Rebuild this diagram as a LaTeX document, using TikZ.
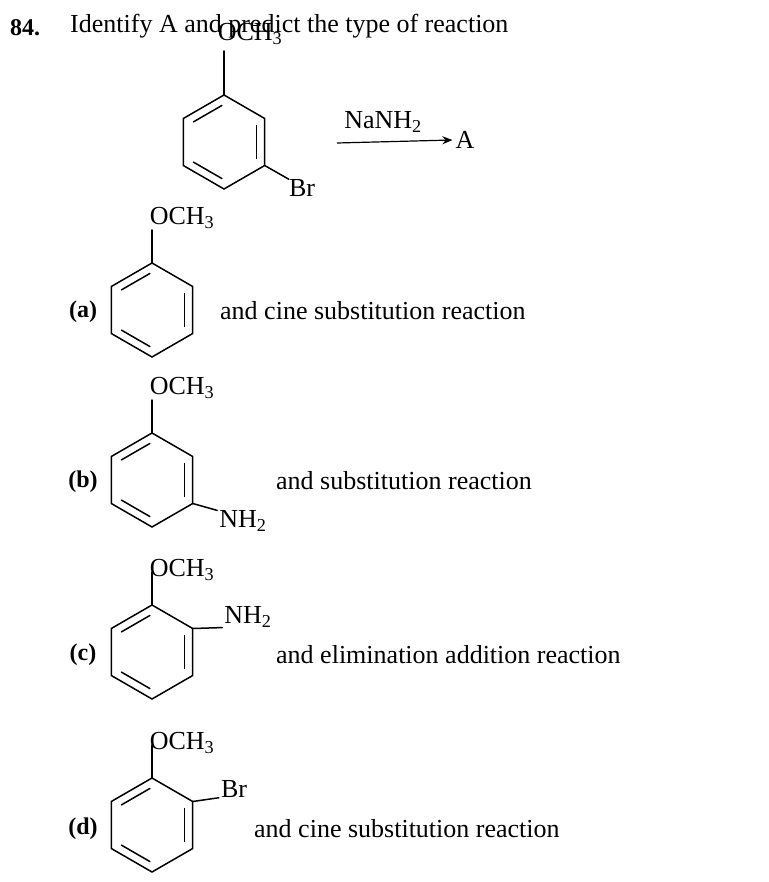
\documentclass[tikz,border=0pt]{standalone}
\usepackage{fontspec}
\setmainfont{Liberation Serif}
\usetikzlibrary{positioning,calc,arrows.meta}

% benzene ring: centre (#1,#2), radius 47, Kekule bonds inside
\newcommand{\benzring}[3]{%
  \begin{scope}[shift={(#1,#2)}]
    \draw[bond] (-90:47) -- (-150:47) -- (150:47) -- (90:47) -- (30:47) -- (-30:47) -- cycle;
    \draw[bond] ($(-90:47)!0.15!(-150:47)+(60:8)$) -- ($(-90:47)!0.85!(-150:47)+(60:8)$);
    \draw[bond] ($(-30:47)!0.15!(30:47)+(180:8)$) -- ($(-30:47)!0.85!(30:47)+(180:8)$);
    \draw[bond] ($(150:47)!0.15!(90:47)+(-60:8)$) -- ($(150:47)!0.85!(90:47)+(-60:8)$);
    \coordinate (#3top) at (-90:47);
    \coordinate (#3ur) at (-30:47);
    \coordinate (#3lr) at (30:47);
  \end{scope}}

\begin{document}
\begin{tikzpicture}[x=1pt,y=-1pt,
  bond/.style={line width=1.5pt,line cap=round},
  txt/.style={font=\fontsize{26}{30}\selectfont,inner sep=0pt},
  opt/.style={txt,font=\fontsize{24}{28}\selectfont\bfseries}]
  \useasboundingbox (0,0) rectangle (768,882);
  % question
  \node[opt,anchor=west] (num) at (10,28) {84.};
  \node[txt,anchor=west] (title) at (70,26) {Identify A and predict the type of reaction};
  % starting material
  \benzring{224}{142}{s}
  \node[txt] (sOMe) at (250,34) {OCH\textsubscript{3}};
  \draw[bond] (stop) -- ++(0,-44);
  \node[txt] (sBr) at (302,188) {Br};
  \draw[bond] (slr) -- (sBr.north west);
  \node[txt] (reag) at (383,122) {NaNH\textsubscript{2}};
  \node[txt] (prodA) at (465,140) {A};
  \draw[line width=1.2pt,-{Stealth[length=10pt,width=8pt]}] (337,143) -- ([xshift=-3pt]prodA.west);
  % option (a)
  \node[opt] (la) at (83,312) {(a)};
  \benzring{152}{310}{a}
  \node[txt] (aOMe) at (182,218) {OCH\textsubscript{3}};
  \draw[bond] (atop) -- ++(0,-33);
  \node[txt,anchor=west] (ta) at (220,311) {and cine substitution reaction};
  % option (b)
  \node[opt] (lb) at (83,482) {(b)};
  \benzring{152}{480}{b}
  \node[txt] (bOMe) at (182,388) {OCH\textsubscript{3}};
  \draw[bond] (btop) -- ++(0,-33);
  \node[txt] (bNH) at (243,521) {NH\textsubscript{2}};
  \draw[bond] (blr) -- ([xshift=-2pt]bNH.north west);
  \node[txt,anchor=west] (tb) at (276,481) {and substitution reaction};
  % option (c)
  \node[opt] (lc) at (83,655) {(c)};
  \benzring{152}{652}{c}
  \node[txt] (cOMe) at (182,570) {OCH\textsubscript{3}};
  \draw[bond] (ctop) -- ++(0,-33);
  \node[txt] (cNH) at (248,617) {NH\textsubscript{2}};
  \draw[bond] (cur) -- ([xshift=-2pt]cNH.south west);
  \node[txt,anchor=west] (tc) at (276,655) {and elimination addition reaction};
  % option (d)
  \node[opt] (ld) at (83,829) {(d)};
  \benzring{152}{825}{d}
  \node[txt] (dOMe) at (182,743) {OCH\textsubscript{3}};
  \draw[bond] (dtop) -- ++(0,-33);
  \node[txt] (dBr) at (234,789) {Br};
  \draw[bond] (dur) -- ([xshift=-2pt]dBr.south west);
  \node[txt,anchor=west] (td) at (254,829) {and cine substitution reaction};
\end{tikzpicture}
\end{document}
